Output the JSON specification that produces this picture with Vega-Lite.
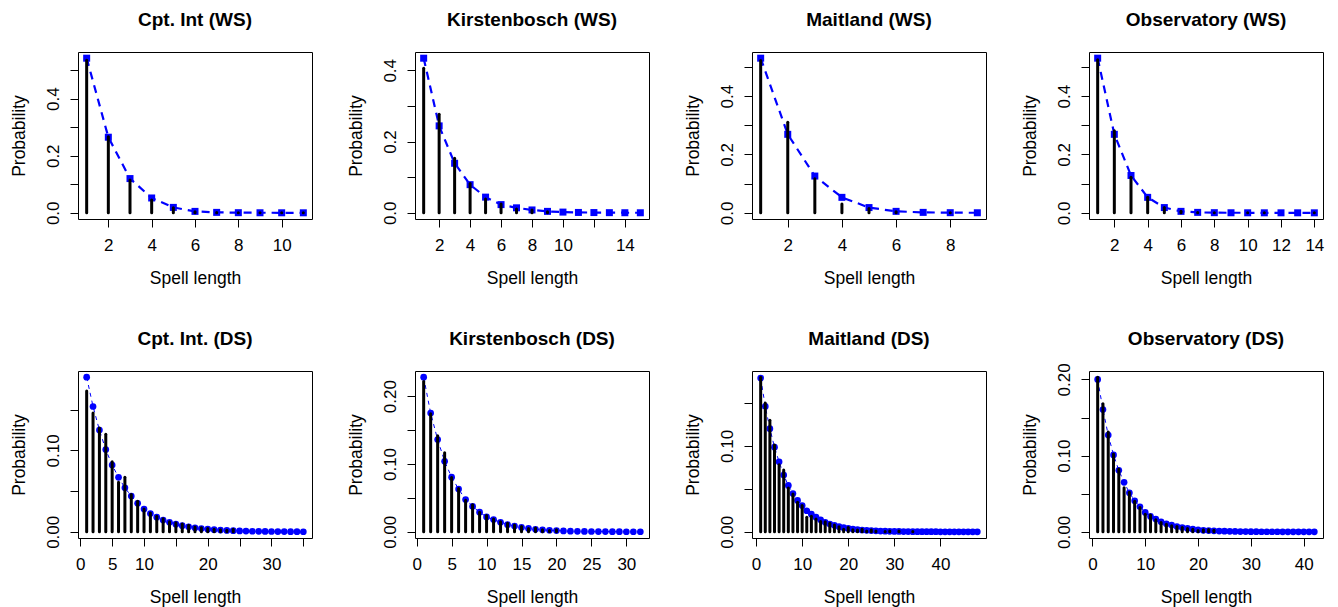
{
"$schema": "https://vega.github.io/schema/vega-lite/v6.json",
"background": "white",
"padding": {"left": 10, "top": 10, "right": 0, "bottom": 0},
"autosize": {"type": "pad"},
"bounds": "flush",
"columns": 4,
"spacing": {"row": 152, "column": 103},
"datasets": {
"cptWS": [{"x":1,"fit":0.542,"obs":0.535},{"x":2,"fit":0.265,"obs":0.267},{"x":3,"fit":0.12,"obs":0.115},{"x":4,"fit":0.052,"obs":0.045},{"x":5,"fit":0.019,"obs":0.018},{"x":6,"fit":0.005,"obs":0.004},{"x":7,"fit":0.0015,"obs":0.001},{"x":8,"fit":0.0005,"obs":0.0005},{"x":9,"fit":0.0002,"obs":0.0003},{"x":10,"fit":0.0001,"obs":0.0002},{"x":11,"fit":0.00005,"obs":0.0001}],
"kirWS": [{"x":1,"fit":0.434,"obs":0.406},{"x":2,"fit":0.244,"obs":0.277},{"x":3,"fit":0.139,"obs":0.153},{"x":4,"fit":0.079,"obs":0.082},{"x":5,"fit":0.044,"obs":0.039},{"x":6,"fit":0.023,"obs":0.025},{"x":7,"fit":0.014,"obs":0.011},{"x":8,"fit":0.008,"obs":0.008},{"x":9,"fit":0.004,"obs":0.003},{"x":10,"fit":0.002},{"x":11,"fit":0.001},{"x":12,"fit":0.0007},{"x":13,"fit":0.0004},{"x":14,"fit":0.0002},{"x":15,"fit":0.0001}],
"maiWS": [{"x":1,"fit":0.53,"obs":0.522},{"x":2,"fit":0.269,"obs":0.31},{"x":3,"fit":0.126,"obs":0.117},{"x":4,"fit":0.053,"obs":0.03},{"x":5,"fit":0.018,"obs":0.015},{"x":6,"fit":0.005,"obs":0.004},{"x":7,"fit":0.0015},{"x":8,"fit":0.0005,"obs":0.0005},{"x":9,"fit":0.0002}],
"obsWS": [{"x":1,"fit":0.53,"obs":0.525},{"x":2,"fit":0.269,"obs":0.281},{"x":3,"fit":0.128,"obs":0.122},{"x":4,"fit":0.053,"obs":0.053},{"x":5,"fit":0.018,"obs":0.018},{"x":6,"fit":0.005,"obs":0.005},{"x":7,"fit":0.0015,"obs":0.001},{"x":8,"fit":0.0005,"obs":0.0005},{"x":9,"fit":0.0002},{"x":10,"fit":0.0001,"obs":0.0002},{"x":11,"fit":0.00005,"obs":0.0001},{"x":12,"fit":0.00002},{"x":13,"fit":0.00001},{"x":14,"fit":0.00001,"obs":0.0001}],
"cptDS": [{"x":1,"fit":0.19,"obs":0.173},{"x":2,"fit":0.154,"obs":0.146},{"x":3,"fit":0.125,"obs":0.1275},{"x":4,"fit":0.101,"obs":0.12},{"x":5,"fit":0.082,"obs":0.086},{"x":6,"fit":0.067,"obs":0.061},{"x":7,"fit":0.054,"obs":0.067},{"x":8,"fit":0.044,"obs":0.046},{"x":9,"fit":0.035,"obs":0.0375},{"x":10,"fit":0.028,"obs":0.028},{"x":11,"fit":0.0225,"obs":0.023},{"x":12,"fit":0.018,"obs":0.019},{"x":13,"fit":0.0145,"obs":0.016},{"x":14,"fit":0.0117,"obs":0.0125},{"x":15,"fit":0.0094,"obs":0.011},{"x":16,"fit":0.0076,"obs":0.0095},{"x":17,"fit":0.0061,"obs":0.008},{"x":18,"fit":0.0049,"obs":0.006},{"x":19,"fit":0.004,"obs":0.005},{"x":20,"fit":0.0032,"obs":0.004},{"x":21,"fit":0.0026,"obs":0.003},{"x":22,"fit":0.0021,"obs":0.0025},{"x":23,"fit":0.0017,"obs":0.002},{"x":24,"fit":0.0014,"obs":0.003},{"x":25,"fit":0.0011},{"x":26,"fit":0.0009},{"x":27,"fit":0.0007},{"x":28,"fit":0.0006},{"x":29,"fit":0.0005},{"x":30,"fit":0.0004},{"x":31,"fit":0.0003},{"x":32,"fit":0.00025},{"x":33,"fit":0.0002},{"x":34,"fit":0.00015},{"x":35,"fit":0.0001}],
"kirDS": [{"x":1,"fit":0.228,"obs":0.2215},{"x":2,"fit":0.175,"obs":0.174},{"x":3,"fit":0.136,"obs":0.1415},{"x":4,"fit":0.104,"obs":0.1165},{"x":5,"fit":0.0805,"obs":0.08},{"x":6,"fit":0.063,"obs":0.064},{"x":7,"fit":0.0475,"obs":0.0465},{"x":8,"fit":0.0375,"obs":0.04},{"x":9,"fit":0.029,"obs":0.029},{"x":10,"fit":0.022,"obs":0.024},{"x":11,"fit":0.018,"obs":0.019},{"x":12,"fit":0.014,"obs":0.015},{"x":13,"fit":0.0105,"obs":0.0125},{"x":14,"fit":0.0085,"obs":0.01},{"x":15,"fit":0.0065,"obs":0.008},{"x":16,"fit":0.005,"obs":0.005},{"x":17,"fit":0.0038,"obs":0.0055},{"x":18,"fit":0.003,"obs":0.003},{"x":19,"fit":0.0023,"obs":0.002},{"x":20,"fit":0.0018,"obs":0.003},{"x":21,"fit":0.0014},{"x":22,"fit":0.001},{"x":23,"fit":0.0008},{"x":24,"fit":0.0006},{"x":25,"fit":0.0005},{"x":26,"fit":0.0004},{"x":27,"fit":0.0003},{"x":28,"fit":0.0002},{"x":29,"fit":0.0002},{"x":30,"fit":0.0001},{"x":31,"fit":0.0001},{"x":32,"fit":0.0001}],
"maiDS": [{"x":1,"fit":0.179,"obs":0.18},{"x":2,"fit":0.146,"obs":0.15},{"x":3,"fit":0.12,"obs":0.13},{"x":4,"fit":0.0985,"obs":0.101},{"x":5,"fit":0.0815,"obs":0.078},{"x":6,"fit":0.066,"obs":0.072},{"x":7,"fit":0.054,"obs":0.051},{"x":8,"fit":0.0445,"obs":0.044},{"x":9,"fit":0.0365,"obs":0.0345},{"x":10,"fit":0.0305,"obs":0.0305},{"x":11,"fit":0.0245,"obs":0.017},{"x":12,"fit":0.0205,"obs":0.018},{"x":13,"fit":0.017,"obs":0.015},{"x":14,"fit":0.014,"obs":0.012},{"x":15,"fit":0.011,"obs":0.0118},{"x":16,"fit":0.009,"obs":0.01},{"x":17,"fit":0.0075,"obs":0.008},{"x":18,"fit":0.006,"obs":0.006},{"x":19,"fit":0.0048,"obs":0.003},{"x":20,"fit":0.004,"obs":0.005},{"x":21,"fit":0.0032,"obs":0.0025},{"x":22,"fit":0.0026,"obs":0.002},{"x":23,"fit":0.0021,"obs":0.003},{"x":24,"fit":0.0017,"obs":0.001},{"x":25,"fit":0.0014,"obs":0.002},{"x":26,"fit":0.0011,"obs":0.001},{"x":27,"fit":0.0009},{"x":28,"fit":0.0007,"obs":0.0005},{"x":29,"fit":0.0006,"obs":0.001},{"x":30,"fit":0.0005},{"x":31,"fit":0.0004,"obs":0.001},{"x":32,"fit":0.0003},{"x":33,"fit":0.0003},{"x":34,"fit":0.0002,"obs":0.0005},{"x":35,"fit":0.0002},{"x":36,"fit":0.0001},{"x":37,"fit":0.0001},{"x":38,"fit":0.0001},{"x":39,"fit":0.0001},{"x":40,"fit":0.00005},{"x":41,"fit":0.00005},{"x":42,"fit":0.00004},{"x":43,"fit":0.00003},{"x":44,"fit":0.00003},{"x":45,"fit":0.00002},{"x":46,"fit":0.00002},{"x":47,"fit":0.00001},{"x":48,"fit":0.00001}],
"obsDS": [{"x":1,"fit":0.2,"obs":0.203},{"x":2,"fit":0.1605,"obs":0.168},{"x":3,"fit":0.127,"obs":0.131},{"x":4,"fit":0.101,"obs":0.102},{"x":5,"fit":0.0807,"obs":0.0825},{"x":6,"fit":0.065,"obs":0.058},{"x":7,"fit":0.0513,"obs":0.052},{"x":8,"fit":0.0408,"obs":0.04},{"x":9,"fit":0.0329,"obs":0.032},{"x":10,"fit":0.0254,"obs":0.023},{"x":11,"fit":0.0202,"obs":0.022},{"x":12,"fit":0.0167,"obs":0.0158},{"x":13,"fit":0.0132,"obs":0.0123},{"x":14,"fit":0.0105,"obs":0.01},{"x":15,"fit":0.0088,"obs":0.0079},{"x":16,"fit":0.007,"obs":0.007},{"x":17,"fit":0.0057,"obs":0.0057},{"x":18,"fit":0.0044,"obs":0.0044},{"x":19,"fit":0.0035,"obs":0.0035},{"x":20,"fit":0.0026,"obs":0.0018},{"x":21,"fit":0.002,"obs":0.0026},{"x":22,"fit":0.0017,"obs":0.003},{"x":23,"fit":0.0013,"obs":0.002},{"x":24,"fit":0.001},{"x":25,"fit":0.0008},{"x":26,"fit":0.0006},{"x":27,"fit":0.0005},{"x":28,"fit":0.0004},{"x":29,"fit":0.0003},{"x":30,"fit":0.0002},{"x":31,"fit":0.0002},{"x":32,"fit":0.0001},{"x":33,"fit":0.0001},{"x":34,"fit":0.0001},{"x":35,"fit":0.0001},{"x":36,"fit":0.00005},{"x":37,"fit":0.00005},{"x":38,"fit":0.00004},{"x":39,"fit":0.00003},{"x":40,"fit":0.00002},{"x":41,"fit":0.00002},{"x":42,"fit":0.00001}]
},
"concat": [
{"title": {"text": "Cpt. Int (WS)", "frame": "group"}, "width": 234, "height": 167, "data": {"name": "cptWS"},
 "encoding": {
  "x": {"field": "x", "type": "quantitative", "title": "Spell length", "scale": {"domain": [0.6, 11.4], "nice": false, "zero": false}, "axis": {"values": [2,4,6,8,10]}},
  "y": {"field": "fit", "type": "quantitative", "title": "Probability", "scale": {"domain": [-0.0217, 0.5637], "nice": false, "zero": false}, "axis": {"values": [0,0.1,0.2,0.3,0.4,0.5], "format": ".1f", "labelExpr": "(datum.value == 0.1 || datum.value == 0.3 || datum.value == 0.5) ? '' : datum.label"}}},
 "layer": [
  {"mark": {"type": "line", "color": "#0000ff", "strokeWidth": 2.2, "strokeDash": [8, 6]}},
  {"mark": {"type": "point", "shape": "square", "filled": true, "size": 49, "color": "#0000ff", "opacity": 1}},
  {"mark": {"type": "rule", "color": "black", "strokeWidth": 3, "strokeCap": "round"}, "encoding": {"y": {"field": "obs", "type": "quantitative", "title": "Probability"}, "y2": {"datum": 0}}}
 ]},
{"title": {"text": "Kirstenbosch (WS)", "frame": "group"}, "width": 234, "height": 167, "data": {"name": "kirWS"},
 "encoding": {
  "x": {"field": "x", "type": "quantitative", "title": "Spell length", "scale": {"domain": [0.44, 15.56], "nice": false, "zero": false}, "axis": {"values": [2,4,6,8,10,12,14], "labelExpr": "datum.value == 12 ? '' : datum.label"}},
  "y": {"field": "fit", "type": "quantitative", "title": "Probability", "scale": {"domain": [-0.0174, 0.4514], "nice": false, "zero": false}, "axis": {"values": [0,0.1,0.2,0.3,0.4], "format": ".1f", "labelExpr": "(datum.value == 0.1 || datum.value == 0.3) ? '' : datum.label"}}},
 "layer": [
  {"mark": {"type": "line", "color": "#0000ff", "strokeWidth": 2.2, "strokeDash": [8, 6]}},
  {"mark": {"type": "point", "shape": "square", "filled": true, "size": 49, "color": "#0000ff", "opacity": 1}},
  {"mark": {"type": "rule", "color": "black", "strokeWidth": 3, "strokeCap": "round"}, "encoding": {"y": {"field": "obs", "type": "quantitative", "title": "Probability"}, "y2": {"datum": 0}}}
 ]},
{"title": {"text": "Maitland (WS)", "frame": "group"}, "width": 234, "height": 167, "data": {"name": "maiWS"},
 "encoding": {
  "x": {"field": "x", "type": "quantitative", "title": "Spell length", "scale": {"domain": [0.68, 9.32], "nice": false, "zero": false}, "axis": {"values": [2,4,6,8]}},
  "y": {"field": "fit", "type": "quantitative", "title": "Probability", "scale": {"domain": [-0.0212, 0.5512], "nice": false, "zero": false}, "axis": {"values": [0,0.1,0.2,0.3,0.4,0.5], "format": ".1f", "labelExpr": "(datum.value == 0.1 || datum.value == 0.3 || datum.value == 0.5) ? '' : datum.label"}}},
 "layer": [
  {"mark": {"type": "line", "color": "#0000ff", "strokeWidth": 2.2, "strokeDash": [8, 6]}},
  {"mark": {"type": "point", "shape": "square", "filled": true, "size": 49, "color": "#0000ff", "opacity": 1}},
  {"mark": {"type": "rule", "color": "black", "strokeWidth": 3, "strokeCap": "round"}, "encoding": {"y": {"field": "obs", "type": "quantitative", "title": "Probability"}, "y2": {"datum": 0}}}
 ]},
{"title": {"text": "Observatory (WS)", "frame": "group"}, "width": 234, "height": 167, "data": {"name": "obsWS"},
 "encoding": {
  "x": {"field": "x", "type": "quantitative", "title": "Spell length", "scale": {"domain": [0.48, 14.52], "nice": false, "zero": false}, "axis": {"values": [2,4,6,8,10,12,14]}},
  "y": {"field": "fit", "type": "quantitative", "title": "Probability", "scale": {"domain": [-0.0212, 0.5512], "nice": false, "zero": false}, "axis": {"values": [0,0.1,0.2,0.3,0.4,0.5], "format": ".1f", "labelExpr": "(datum.value == 0.1 || datum.value == 0.3 || datum.value == 0.5) ? '' : datum.label"}}},
 "layer": [
  {"mark": {"type": "line", "color": "#0000ff", "strokeWidth": 2.2, "strokeDash": [8, 6]}},
  {"mark": {"type": "point", "shape": "square", "filled": true, "size": 49, "color": "#0000ff", "opacity": 1}},
  {"mark": {"type": "rule", "color": "black", "strokeWidth": 3, "strokeCap": "round"}, "encoding": {"y": {"field": "obs", "type": "quantitative", "title": "Probability"}, "y2": {"datum": 0}}}
 ]},
{"title": {"text": "Cpt. Int. (DS)", "frame": "group"}, "width": 234, "height": 167, "data": {"name": "cptDS"},
 "encoding": {
  "x": {"field": "x", "type": "quantitative", "title": "Spell length", "scale": {"domain": [-0.36, 36.36], "nice": false, "zero": false}, "axis": {"values": [0,5,10,15,20,25,30,35], "labelExpr": "(datum.value == 15 || datum.value == 25 || datum.value == 35) ? '' : datum.label"}},
  "y": {"field": "fit", "type": "quantitative", "title": "Probability", "scale": {"domain": [-0.0076, 0.1976], "nice": false, "zero": false}, "axis": {"values": [0,0.05,0.1,0.15], "format": ".2f", "labelExpr": "(datum.value == 0.05 || datum.value == 0.15) ? '' : datum.label"}}},
 "layer": [
  {"mark": {"type": "line", "color": "#0000ff", "strokeWidth": 1, "strokeDash": [4, 4]}},
  {"mark": {"type": "point", "shape": "circle", "filled": true, "size": 45, "color": "#0000ff", "opacity": 1}},
  {"mark": {"type": "rule", "color": "black", "strokeWidth": 3, "strokeCap": "round"}, "encoding": {"y": {"field": "obs", "type": "quantitative", "title": "Probability"}, "y2": {"datum": 0}}}
 ]},
{"title": {"text": "Kirstenbosch (DS)", "frame": "group"}, "width": 234, "height": 167, "data": {"name": "kirDS"},
 "encoding": {
  "x": {"field": "x", "type": "quantitative", "title": "Spell length", "scale": {"domain": [-0.24, 33.24], "nice": false, "zero": false}, "axis": {"values": [0,5,10,15,20,25,30]}},
  "y": {"field": "fit", "type": "quantitative", "title": "Probability", "scale": {"domain": [-0.0091, 0.2371], "nice": false, "zero": false}, "axis": {"values": [0,0.05,0.1,0.15,0.2], "format": ".2f", "labelExpr": "(datum.value == 0.05 || datum.value == 0.15) ? '' : datum.label"}}},
 "layer": [
  {"mark": {"type": "line", "color": "#0000ff", "strokeWidth": 1, "strokeDash": [4, 4]}},
  {"mark": {"type": "point", "shape": "circle", "filled": true, "size": 45, "color": "#0000ff", "opacity": 1}},
  {"mark": {"type": "rule", "color": "black", "strokeWidth": 3, "strokeCap": "round"}, "encoding": {"y": {"field": "obs", "type": "quantitative", "title": "Probability"}, "y2": {"datum": 0}}}
 ]},
{"title": {"text": "Maitland (DS)", "frame": "group"}, "width": 234, "height": 167, "data": {"name": "maiDS"},
 "encoding": {
  "x": {"field": "x", "type": "quantitative", "title": "Spell length", "scale": {"domain": [-0.88, 49.88], "nice": false, "zero": false}, "axis": {"values": [0,10,20,30,40]}},
  "y": {"field": "fit", "type": "quantitative", "title": "Probability", "scale": {"domain": [-0.0072, 0.1872], "nice": false, "zero": false}, "axis": {"values": [0,0.05,0.1,0.15], "format": ".2f", "labelExpr": "(datum.value == 0.05 || datum.value == 0.15) ? '' : datum.label"}}},
 "layer": [
  {"mark": {"type": "line", "color": "#0000ff", "strokeWidth": 1, "strokeDash": [4, 4]}},
  {"mark": {"type": "point", "shape": "circle", "filled": true, "size": 45, "color": "#0000ff", "opacity": 1}},
  {"mark": {"type": "rule", "color": "black", "strokeWidth": 3, "strokeCap": "round"}, "encoding": {"y": {"field": "obs", "type": "quantitative", "title": "Probability"}, "y2": {"datum": 0}}}
 ]},
{"title": {"text": "Observatory (DS)", "frame": "group", "offset": 14}, "width": 234, "height": 167, "data": {"name": "obsDS"},
 "encoding": {
  "x": {"field": "x", "type": "quantitative", "title": "Spell length", "scale": {"domain": [-0.64, 43.64], "nice": false, "zero": false}, "axis": {"values": [0,10,20,30,40]}},
  "y": {"field": "fit", "type": "quantitative", "title": "Probability", "scale": {"domain": [-0.0081, 0.2111], "nice": false, "zero": false}, "axis": {"values": [0,0.05,0.1,0.15,0.2], "format": ".2f", "labelExpr": "(datum.value == 0.05 || datum.value == 0.15) ? '' : datum.label"}}},
 "layer": [
  {"mark": {"type": "line", "color": "#0000ff", "strokeWidth": 1, "strokeDash": [4, 4]}},
  {"mark": {"type": "point", "shape": "circle", "filled": true, "size": 45, "color": "#0000ff", "opacity": 1}},
  {"mark": {"type": "rule", "color": "black", "strokeWidth": 3, "strokeCap": "round"}, "encoding": {"y": {"field": "obs", "type": "quantitative", "title": "Probability"}, "y2": {"datum": 0}}}
 ]}
],
"config": {
 "font": "Liberation Sans",
 "view": {"stroke": "black", "strokeWidth": 1},
 "axis": {"grid": false, "domain": false, "ticks": true, "tickColor": "black", "tickSize": 8, "tickWidth": 1, "labelColor": "black", "labelFontSize": 17, "titleColor": "black", "titleFontSize": 17.5, "titleFontWeight": "normal", "labelFlush": false, "labelOverlap": false, "labelBound": false},
 "axisX": {"labelPadding": 10.5, "labelAngle": 0, "labelBaseline": "top", "labelAlign": "center", "titleBaseline": "alphabetic", "titleAlign": "center", "titleX": 117, "titleY": 64.5},
 "axisY": {"labelAngle": -90, "labelAlign": "center", "labelBaseline": "alphabetic", "labelPadding": 11.5, "titleAngle": -90, "titleBaseline": "alphabetic", "titleAlign": "center", "titleX": -53.5, "titleY": 83.5},
 "title": {"fontSize": 19, "fontWeight": "bold", "color": "black", "baseline": "alphabetic", "offset": 22, "frame": "group", "anchor": "middle"}
}
}
